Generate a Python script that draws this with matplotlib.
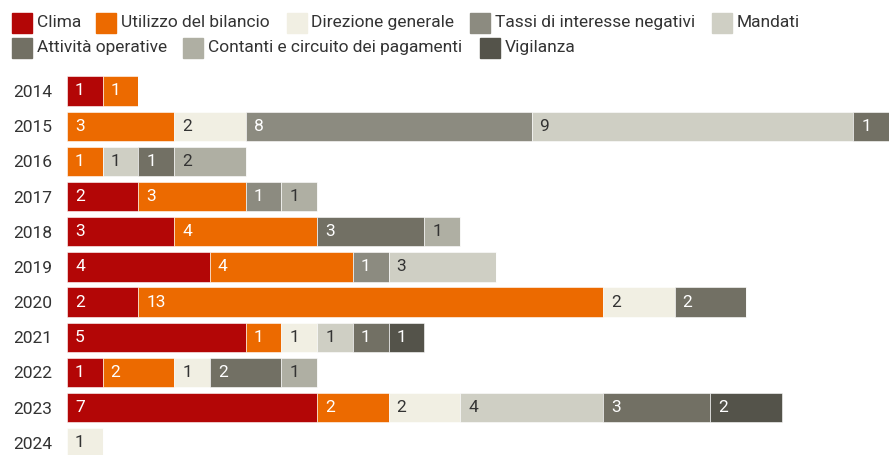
import matplotlib.pyplot as plt
import matplotlib.transforms as mtransforms
from matplotlib.patches import Rectangle

plt.rcParams['font.family'] = ['Roboto', 'DejaVu Sans']

years = ['2014', '2015', '2016', '2017', '2018', '2019', '2020', '2021', '2022', '2023', '2024']
categories = ['Clima', 'Utilizzo del bilancio', 'Direzione generale', 'Tassi di interesse negativi',
              'Mandati', 'Attività operative', 'Contanti e circuito dei pagamenti', 'Vigilanza']

clima = [1, 0, 0, 2, 3, 4, 2, 5, 1, 7, 0]
utilizzo = [1, 3, 1, 3, 4, 4, 13, 1, 2, 2, 0]
direzione = [0, 2, 0, 0, 0, 0, 2, 1, 1, 2, 1]
tassi = [0, 8, 0, 1, 0, 1, 0, 0, 0, 0, 0]
mandati = [0, 9, 1, 0, 0, 3, 0, 1, 0, 4, 0]
attivita = [0, 1, 1, 0, 3, 0, 2, 1, 2, 3, 0]
contanti = [0, 0, 2, 1, 1, 0, 0, 0, 1, 0, 0]
vigilanza = [0, 0, 0, 0, 0, 0, 0, 1, 0, 2, 0]

series = [clima, utilizzo, direzione, tassi, mandati, attivita, contanti, vigilanza]
colors = ['#b30606', '#ec6a00', '#f1efe3', '#8c8b80', '#cfcfc4', '#727064', '#afafa3', '#54534a']
text_colors = ['white', 'white', '#333333', 'white', '#333333', 'white', '#333333', 'white']

fig = plt.figure(figsize=(8.95, 4.55), dpi=100)
ax = fig.add_axes([67 / 895, -5.4 / 455, 822 / 895, 387 / 455])

ypos = list(range(len(years)))
left = [0] * len(years)
label_offset = mtransforms.offset_copy(ax.transData, fig=fig, x=8, y=0, units='dots')
for vals, col, tcol in zip(series, colors, text_colors):
    ax.barh(ypos, vals, left=left, height=0.83, color=col, edgecolor='white', linewidth=0.4)
    for i, v in enumerate(vals):
        if v > 0:
            ax.text(left[i], ypos[i], str(v), transform=label_offset, ha='left', va='center',
                    fontsize=12.5, color=tcol)
    left = [a + b for a, b in zip(left, vals)]

ax.set_xlim(0, 23)
ax.set_ylim(10.5, -0.5)
ax.set_yticks(ypos)
ax.set_yticklabels(years, fontsize=12.5, color='#333333')
ax.tick_params(axis='y', length=0, pad=10.8)
ax.set_xticks([])
for s in ax.spines.values():
    s.set_visible(False)

# legend drawn by hand in two rows
legend_rows = [
    [(0, 12, 37), (1, 96, 121), (2, 287, 311), (3, 470, 495), (4, 712, 737)],
    [(5, 12, 37), (6, 183, 208), (7, 480, 505)],
]
row_centers = [22.5, 47.5]
for row, yc in zip(legend_rows, row_centers):
    for idx, sx, tx in row:
        fig.patches.append(Rectangle((sx / 895, 1 - (yc + 10) / 455), 20 / 895, 20 / 455,
                                     transform=fig.transFigure, color=colors[idx]))
        fig.text(tx / 895, 1 - yc / 455, categories[idx], ha='left', va='center',
                 fontsize=12.5, color='#333333')

fig.savefig('out.png', dpi=100)
